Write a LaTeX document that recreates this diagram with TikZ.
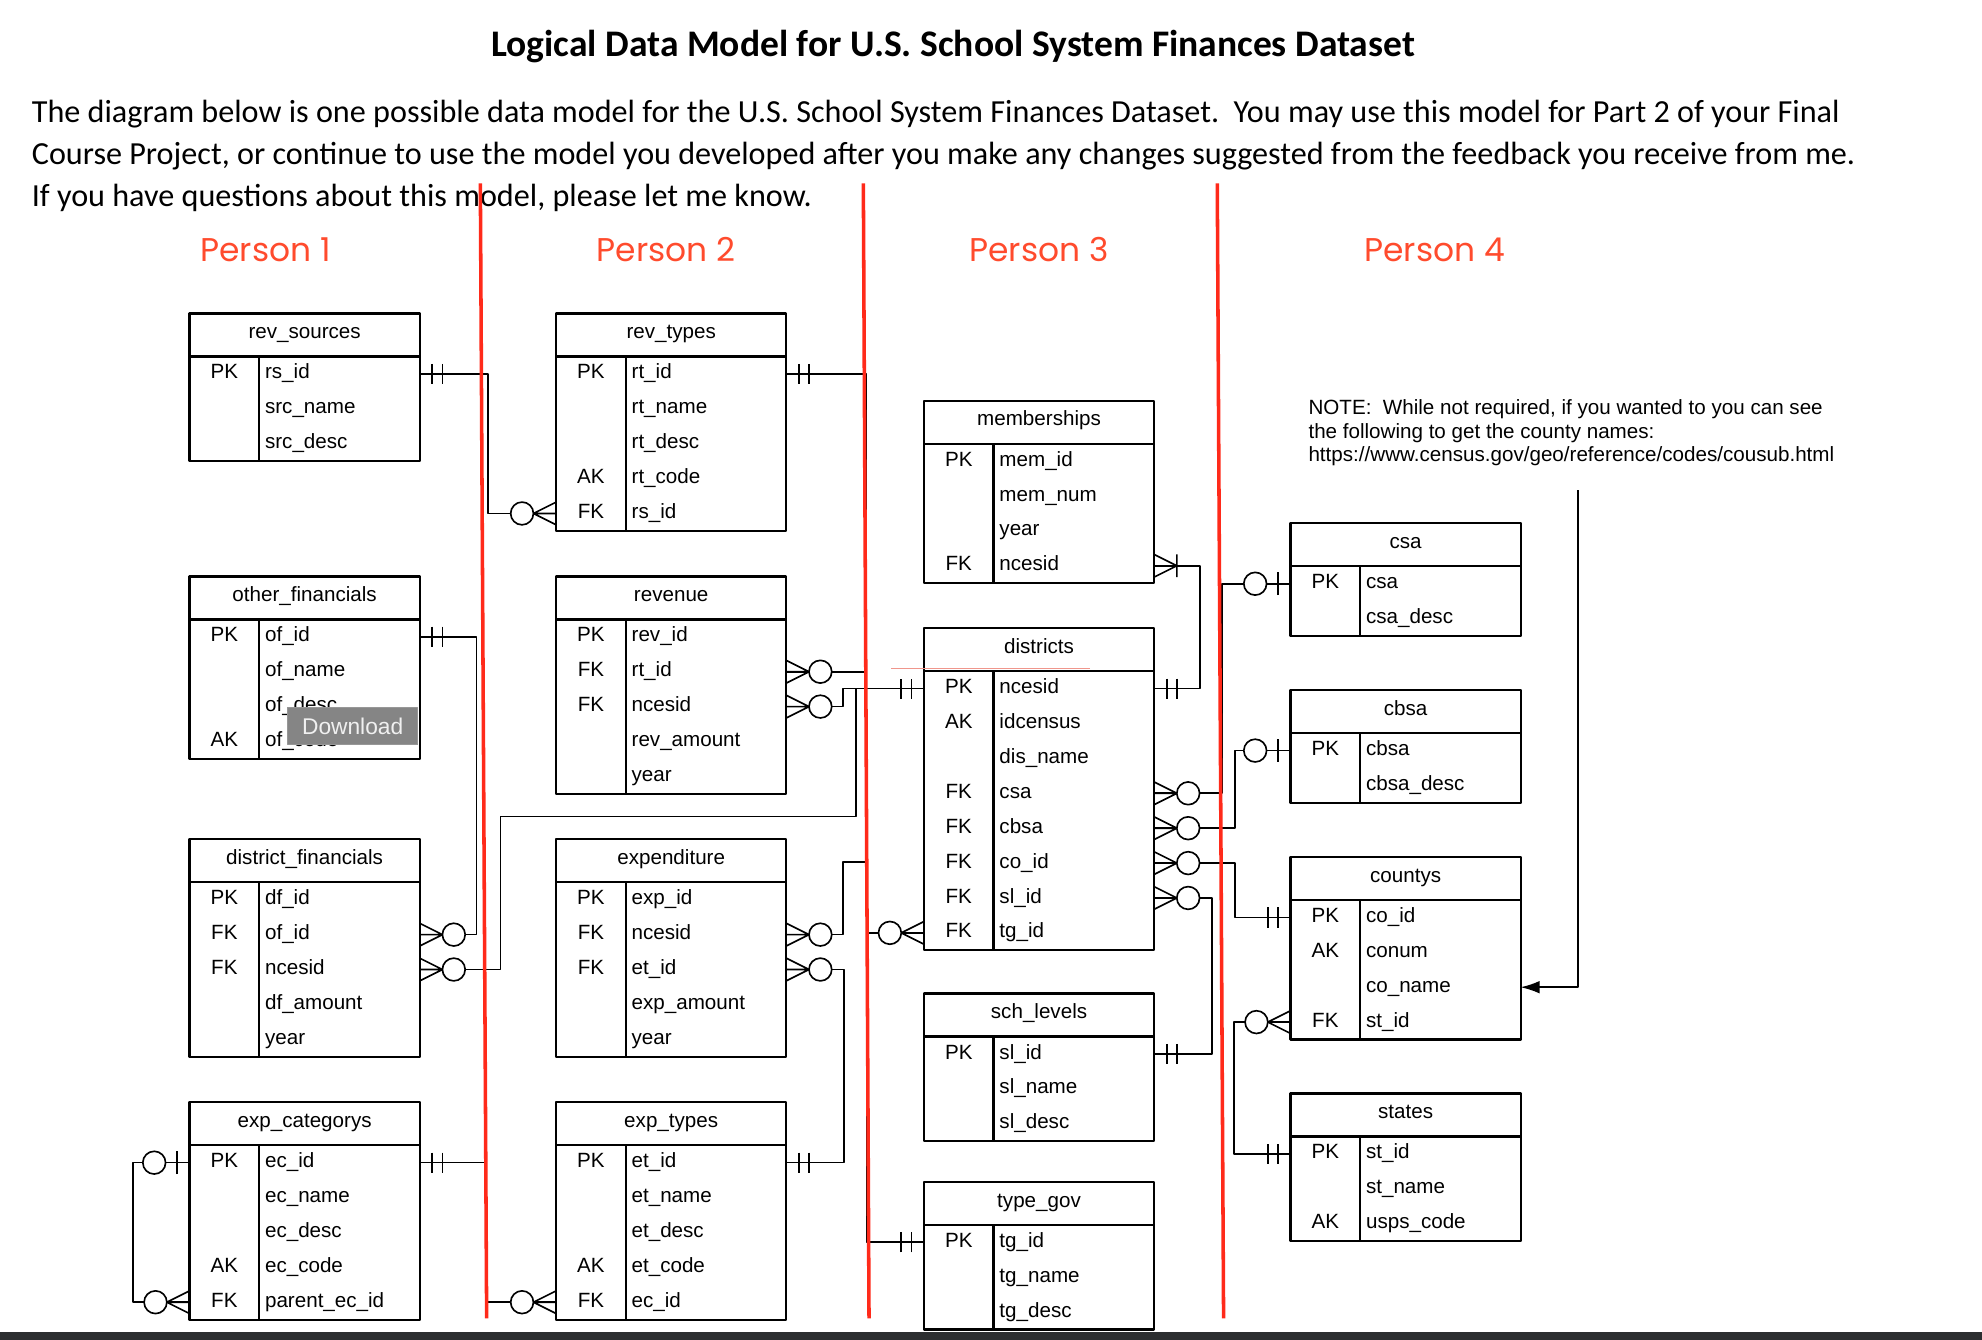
\documentclass[tikz,border=0pt]{standalone}
\usepackage{fontspec}
\setmainfont{Liberation Sans}
\newfontfamily\calibfont{Carlito}
\newfontfamily\persfont{Poppins}
\usetikzlibrary{arrows.meta}
\definecolor{redbar}{RGB}{255,42,26}
\definecolor{persred}{RGB}{255,75,45}
\definecolor{dlgray}{RGB}{133,133,133}
\definecolor{salmon}{RGB}{240,150,140}
\definecolor{darkbar}{RGB}{44,46,48}
\newcommand{\tabfont}{\fontsize{16.3}{19}\selectfont}
\tikzset{
  tbl/.style={draw, line width=1.8pt, fill=white, minimum width=182pt, inner sep=0pt, outer sep=0pt},
  tbline/.style={line width=1.8pt},
  hdtext/.style={anchor=base, inner sep=0pt, font=\tabfont},
  keytext/.style={anchor=base, inner sep=0pt, font=\tabfont},
  fieldtext/.style={anchor=base west, inner sep=0pt, font=\tabfont},
  link/.style={line width=1.3pt},
  redline/.style={line width=2.8pt, draw=redbar},
  onlyone/.pic={\draw[link] (10,-8) -- (10,8) (18,-8) -- (18,8);},
  zone/.pic={\draw[link] (10,-9) -- (10,9); \draw[link, fill=white] (28,0) circle (9pt);},
  zmany/.pic={\draw[link] (0,-9) -- (18,0) -- (0,9) (0,0) -- (18,0); \draw[link, fill=white] (27,0) circle (9pt);},
  onemany/.pic={\draw[link] (0,-9) -- (18,0) -- (0,9) (18,-9) -- (18,9);}
}
\newcommand{\ertable}[5]{%
  \foreach[count=\nn] \kk/\ff in {#5}{\xdef\nrows{\nn}}
  \node[tbl, minimum height={34+27.6*\nrows}, anchor=north west] (#1) at (#2,#3) {};
  \draw[tbline] ([yshift=-34pt]#1.north west) -- ([yshift=-34pt]#1.north east);
  \draw[tbline] ([shift={(55pt,-34pt)}]#1.north west) -- ([xshift=55pt]#1.south west);
  \node[hdtext] (#1-h) at ([shift={(91pt,-20pt)}]#1.north west) {#4};
  \foreach[count=\i] \kk/\ff in {#5}{
    \coordinate (#1-\i) at ([yshift={-47.8pt-27.6pt*(\i-1)}]#1.north west);
    \node[keytext] (#1-k\i) at ([shift={(27.5pt,-4pt)}]#1-\i) {\kk};
    \node[fieldtext] (#1-f\i) at ([shift={(59.5pt,-4pt)}]#1-\i) {\ff};
  }
}
\begin{document}
\begin{tikzpicture}[x=1pt, y=-1pt, line join=round]
        \def\ca{150} \def\cb{440} \def\cc{731} \def\cd{1021}
\useasboundingbox (0,0) rectangle (1568,1060);
\fill[white] (0,0) rectangle (1568,1060);
\node[anchor=base, inner sep=0pt, font=\calibfont\bfseries\fontsize{29.7}{33}\selectfont] (title) at (754,45) {Logical Data Model for U.S. School System Finances Dataset};
\node[anchor=base west, inner sep=0pt, font=\calibfont\fontsize{25.45}{30}\selectfont] (para1) at (25,97) {The diagram below is one possible data model for the U.S. School System Finances Dataset.\ \ You may use this model for Part 2 of your Final};
\node[anchor=base west, inner sep=0pt, font=\calibfont\fontsize{25.45}{30}\selectfont] (para2) at (25,130) {Course Project, or continue to use the model you developed after you make any changes suggested from the feedback you receive from me.};
\node[anchor=base west, inner sep=0pt, font=\calibfont\fontsize{25.45}{30}\selectfont] (para3) at (25,163) {If you have questions about this model, please let me know.};
\foreach \px/\pn in {210/1, 527/2, 822/3, 1135/4}
  \node[anchor=base, inner sep=0pt, text=persred, font=\persfont\fontsize{26}{30}\selectfont] (person\pn) at (\px,207) {Person \pn};
\ertable{revsrc}{\ca}{248}{rev\_sources}{PK/rs\_id, /src\_name, /src\_desc}
\ertable{othfin}{\ca}{456}{other\_financials}{PK/of\_id, /of\_name, /of\_desc, AK/of\_code}
\ertable{distfin}{\ca}{664}{district\_financials}{PK/df\_id, FK/of\_id, FK/ncesid, /df\_amount, /year}
\ertable{expcat}{\ca}{872}{exp\_categorys}{PK/ec\_id, /ec\_name, /ec\_desc, AK/ec\_code, FK/parent\_ec\_id}
\ertable{revtyp}{\cb}{248}{rev\_types}{PK/rt\_id, /rt\_name, /rt\_desc, AK/rt\_code, FK/rs\_id}
\ertable{revenue}{\cb}{456}{revenue}{PK/rev\_id, FK/rt\_id, FK/ncesid, /rev\_amount, /year}
\ertable{expend}{\cb}{664}{expenditure}{PK/exp\_id, FK/ncesid, FK/et\_id, /exp\_amount, /year}
\ertable{exptyp}{\cb}{872}{exp\_types}{PK/et\_id, /et\_name, /et\_desc, AK/et\_code, FK/ec\_id}
\ertable{members}{\cc}{317}{memberships}{PK/mem\_id, /mem\_num, /year, FK/ncesid}
\ertable{districts}{\cc}{497}{districts}{PK/ncesid, AK/idcensus, /dis\_name, FK/csa, FK/cbsa, FK/co\_id, FK/sl\_id, FK/tg\_id}
\ertable{schlev}{\cc}{786}{sch\_levels}{PK/sl\_id, /sl\_name, /sl\_desc}
\ertable{typegov}{\cc}{935}{type\_gov}{PK/tg\_id, /tg\_name, /tg\_desc}
\ertable{csa}{\cd}{414}{csa}{PK/csa, /csa\_desc}
\ertable{cbsa}{\cd}{546}{cbsa}{PK/cbsa, /cbsa\_desc}
\ertable{countys}{\cd}{678}{countys}{PK/co\_id, AK/conum, /co\_name, FK/st\_id}
\ertable{states}{\cd}{865}{states}{PK/st\_id, /st\_name, AK/usps\_code}
\draw[salmon, line width=1pt] (705,529) -- (862,529);
\node[anchor=base west, inner sep=0pt, font=\fontsize{16.3}{18}\selectfont] (note1) at (1035,328) {NOTE:\ \ While not required, if you wanted to you can see};
\node[anchor=base west, inner sep=0pt, font=\fontsize{16.3}{18}\selectfont] (note2) at (1035,346.7) {the following to get the county names:};
\node[anchor=base west, inner sep=0pt, font=\fontsize{16.3}{18}\selectfont] (note3) at (1035,365.4) {https://www.census.gov/geo/reference/codes/cousub.html};
\coordinate (notearr) at (1248.5,388);
\draw[link] (revsrc.east |- revsrc-1) -- ++(54,0) |- (revtyp.west |- revtyp-5);
\draw[link] (revtyp.east |- revtyp-1) -- ++(63.5,0) |- (revenue.east |- revenue-2);
\draw[link] (revenue.east |- revenue-3) -- ++(45,0) |- (districts.west |- districts-1);
\draw[link] (distfin.east |- distfin-3) -- ++(64,0) |- ++(281,-121) |- (districts.west |- districts-1);
\draw[link] (expend.east |- expend-2) -- ++(45,0) |- ++(18.5,-57.5) |- (districts.west |- districts-1);
\draw[link] (districts.west |- districts-8) -- ++(-45.5,0) |- (typegov.west |- typegov-1);
\draw[link] (othfin.east |- othfin-1) -- ++(45,0) |- (distfin.east |- distfin-2);
\draw[link] (expend.east |- expend-3) -- ++(45.5,0) |- (exptyp.east |- exptyp-1);
\draw[link] (expcat.east |- expcat-1) -- ++(53,0) |- (exptyp.west |- exptyp-5);
\draw[link] (expcat.west |- expcat-1) -- ++(-45,0) |- (expcat.west |- expcat-5);
\draw[link] (members.east |- members-4) -- ++(36.5,0) |- (districts.east |- districts-1);
\draw[link] (districts.east |- districts-4) -- ++(53.5,0) |- (csa.west |- csa-1);
\draw[link] (districts.east |- districts-5) -- ++(64,0) |- (cbsa.west |- cbsa-1);
\draw[link] (districts.east |- districts-6) -- ++(64,0) |- (countys.west |- countys-1);
\draw[link] (districts.east |- districts-7) -- ++(46,0) |- (schlev.east |- schlev-1);
\draw[link] (countys.west |- countys-4) -- ++(-45,0) |- (states.west |- states-1);
\draw[link, -{Latex[length=15pt, width=10pt]}] (notearr) |- (countys.east |- countys-3);
\pic at (revsrc.east |- revsrc-1) {onlyone};
\pic[rotate=180] at (revtyp.west |- revtyp-5) {zmany};
\pic at (revtyp.east |- revtyp-1) {onlyone};
\pic at (revenue.east |- revenue-2) {zmany};
\pic at (revenue.east |- revenue-3) {zmany};
\pic[rotate=180] at (districts.west |- districts-1) {onlyone};
\pic at (distfin.east |- distfin-3) {zmany};
\pic at (expend.east |- expend-2) {zmany};
\pic[rotate=180] at (districts.west |- districts-8) {zmany};
\pic[rotate=180] at (typegov.west |- typegov-1) {onlyone};
\pic at (othfin.east |- othfin-1) {onlyone};
\pic at (distfin.east |- distfin-2) {zmany};
\pic at (expend.east |- expend-3) {zmany};
\pic at (exptyp.east |- exptyp-1) {onlyone};
\pic at (expcat.east |- expcat-1) {onlyone};
\pic[rotate=180] at (exptyp.west |- exptyp-5) {zmany};
\pic[rotate=180] at (expcat.west |- expcat-1) {zone};
\pic[rotate=180] at (expcat.west |- expcat-5) {zmany};
\pic at (members.east |- members-4) {onemany};
\pic at (districts.east |- districts-1) {onlyone};
\pic at (districts.east |- districts-4) {zmany};
\pic[rotate=180] at (csa.west |- csa-1) {zone};
\pic at (districts.east |- districts-5) {zmany};
\pic[rotate=180] at (cbsa.west |- cbsa-1) {zone};
\pic at (districts.east |- districts-6) {zmany};
\pic[rotate=180] at (countys.west |- countys-1) {onlyone};
\pic at (districts.east |- districts-7) {zmany};
\pic at (schlev.east |- schlev-1) {onlyone};
\pic[rotate=180] at (countys.west |- countys-4) {zmany};
\pic[rotate=180] at (states.west |- states-1) {onlyone};
\draw[redline] (380,145) -- (385,1043);
\draw[redline] (683,145) -- (687.5,1043);
\draw[redline] (963,145) -- (968,1043);
\node[fill=dlgray, draw=dlgray!85!white, line width=0.8pt, minimum width=103pt, minimum height=29pt, inner sep=0pt, text=white!94!black, font=\fontsize{18}{20}\selectfont] (dl) at (279,574.5) {Download};
\fill[darkbar] (0,1053.5) rectangle (1568,1060);
    \end{tikzpicture}
\end{document}
